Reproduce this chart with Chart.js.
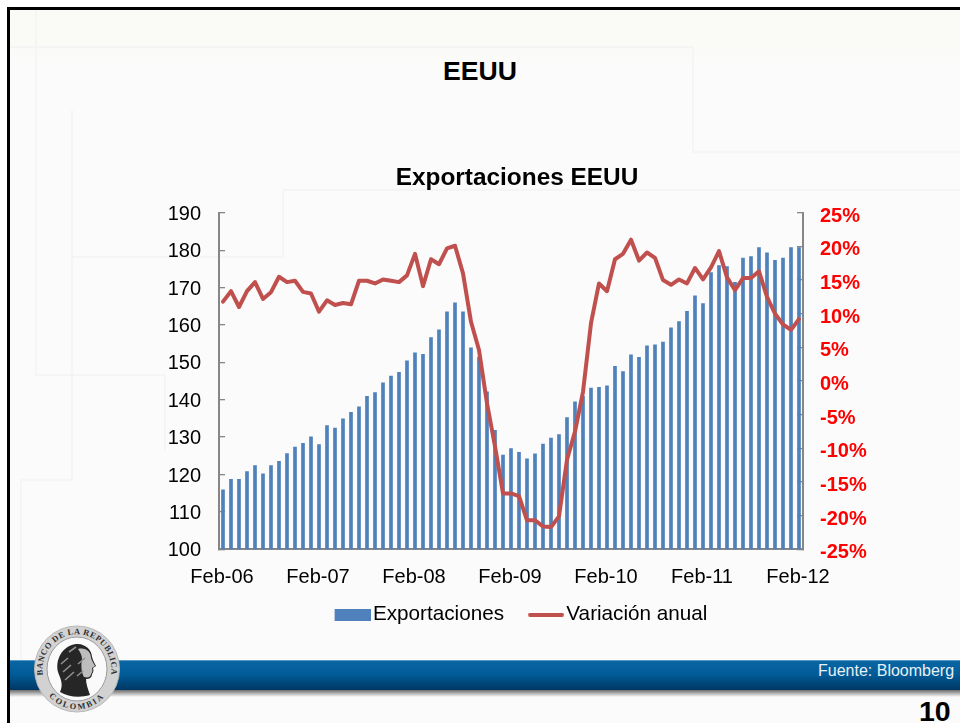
<!DOCTYPE html>
<html><head><meta charset="utf-8">
<script src="https://cdn.jsdelivr.net/npm/chart.js@4"></script>
<style>
html,body{margin:0;padding:0;background:#fff;width:960px;height:723px;overflow:hidden}
#slide{position:absolute;left:0;top:0;width:960px;height:723px;font-family:"Liberation Sans",Arial,sans-serif}
#bg{position:absolute;left:0;top:0}
#wrap{position:absolute;left:74px;top:150px;width:886px;height:485px}
.t{position:absolute;white-space:nowrap}
</style></head><body>
<div id="slide">
<svg id="bg" width="960" height="723" xmlns="http://www.w3.org/2000/svg">
<defs>
<linearGradient id="page" x1="0" y1="0" x2="0" y2="1"><stop offset="0" stop-color="#fafaf6"/><stop offset=".05" stop-color="#fafaf7"/><stop offset=".09" stop-color="#fbfbfb"/><stop offset="1" stop-color="#fbfbfb"/></linearGradient>
<linearGradient id="band" x1="0" y1="0" x2="0" y2="1"><stop offset="0" stop-color="#7db2d4"/><stop offset=".05" stop-color="#0a66a3"/><stop offset=".5" stop-color="#005a96"/><stop offset="1" stop-color="#003763"/></linearGradient>
<linearGradient id="shadow" x1="0" y1="0" x2="0" y2="1"><stop offset="0" stop-color="#6e6e6e"/><stop offset="1" stop-color="#fbfbfb"/></linearGradient>
<path id="arcTop" d="M 47 688 A 34.5 36 0 1 1 107 688"/>
<path id="arcBot" d="M 44 689 A 38 40 0 0 0 110 689"/>
</defs>
<rect x="7" y="7" width="953" height="716" fill="url(#page)"/>
<g fill="none" stroke="#f4f4f4" stroke-width="1.5">
<path d="M10 47H693V152H960"/>
<path d="M36 10V375H165V450"/>
<path d="M72 110V480H21V660"/>
<path d="M72 257H283V190H960"/>
</g>
<rect x="10" y="660" width="950" height="30" fill="url(#band)"/>
<rect x="10" y="690" width="950" height="7" fill="url(#shadow)"/>
<path d="M7 7H960V10H10V723H7Z" fill="#000"/>
<ellipse cx="77" cy="669" rx="42.5" ry="43" fill="#d2d2d2" stroke="#b8b8b8" stroke-width="1"/>
<ellipse cx="77" cy="669" rx="30" ry="32" fill="#fafafa" stroke="#9a9a9a" stroke-width="1"/>
<text font-family="Liberation Serif" font-weight="bold" font-size="8.4" fill="#2e2e2e" letter-spacing=".55"><textPath href="#arcTop" startOffset="50%" text-anchor="middle">BANCO DE LA REPUBLICA</textPath></text>
<text font-family="Liberation Serif" font-weight="bold" font-size="8.4" fill="#2e2e2e" letter-spacing="2"><textPath href="#arcBot" startOffset="50%" text-anchor="middle">COLOMBIA</textPath></text>
<path d="M60 692C64 684 60 678 58 672C55 660 62 646 76 644C85 643 92 650 92 657C93 661 95 664 96 666L93 668C94 671 93 673 92 674C92 678 89 679 86 679C86 684 88 689 90 695C80 698 68 697 60 692Z" fill="#262626"/>
<path d="M78 649C86 647 91 652 91 658C92 661 94 664 95 666L92 668C93 671 92 673 91 674C91 677 88 678 84 677C81 672 81 664 82 659C82 655 80 652 78 649Z" fill="#bdbdbd"/>
<path d="M61 664l7-6m-5 14l8-7m-6 15l9-8m-5-20l7-5m2 17l7-6m-8 18l6-5" stroke="#8f8f8f" stroke-width="1.6" fill="none"/>
</svg>
<div class="t" style="left:443px;top:55px;font-size:26.6px;line-height:32px;font-weight:bold;color:#000">EEUU</div>
<div class="t" style="left:818px;top:662px;font-size:16px;line-height:18px;color:#e8f0f6">Fuente: Bloomberg</div>
<div class="t" style="left:919px;top:695px;font-size:28.5px;line-height:32px;font-weight:bold;color:#000">10</div>
<div id="wrap"><canvas id="c" width="886" height="485"></canvas></div>
</div>
<script>
const yearLabels = ["06","07","08","09","10","11","12"];
const monthNames = ["Feb","Mar","Abr","May","Jun","Jul","Ago","Sep","Oct","Nov","Dic","Ene"];
const categories = [];
for (let i = 0; i < 73; i++) {
  const y = yearLabels[Math.floor(i / 12)];
  categories.push(monthNames[i % 12] + "-" + y);
}
const exportaciones = [116,118.8,118.8,120.9,122.5,120.3,122.5,123.6,125.7,127.4,128.4,130.2,
  128.1,133.2,132.5,135,136.7,138.2,141,142,144.6,146.4,147.4,150.5,
  152.6,152.2,156.7,158.8,163.6,166,163.6,154,151.5,142.2,131.9,125.3,
  127,126,124.3,125.6,128.2,129.8,130.8,135.3,139.5,141,143.2,143.4,
  143.8,149,147.6,152.1,151.4,154.5,154.8,155.5,159.3,161,163.7,167.9,
  165.8,174.1,176,175.7,171.5,178,178.4,180.8,179.4,177.4,178,180.8,180.8];
const variacion = [11.8,13.35,11,13.35,14.7,12.2,13.2,15.5,14.7,14.9,13.25,13,
  10.3,12,11.3,11.6,11.4,14.9,14.9,14.5,15.1,14.9,14.7,15.7,
  18.9,14.1,18.1,17.35,19.7,20.1,16,8.8,4.6,-3.3,-9.7,-16.7,
  -16.7,-17.1,-20.7,-20.7,-21.6,-21.7,-20.1,-11.7,-7.5,-1.6,8.6,14.5,
  13.35,18.1,18.9,21,17.9,19.1,18.3,15,14.3,15.1,14.5,16.8,
  15.1,16.9,19.3,15.4,13.5,15.3,15.3,16.3,12.5,10,8.4,7.6,9.2];

const BLUE = "#4F81BD", RED = "#C0504D", AXIS = "#868686";
const FONT = "'Liberation Sans', Arial, sans-serif";

// Legend key: a 36px key right-aligned in a wider transparent image, so it sits next to its text.
function swatch(h, color, round) {
  const c = document.createElement("canvas");
  c.width = 52; c.height = h;
  const x = c.getContext("2d");
  x.fillStyle = color;
  if (round) { x.beginPath(); x.roundRect(16, 0, 36, h, h / 2); x.fill(); }
  else x.fillRect(16, 0, 36, h);
  return c;
}

new Chart(document.getElementById("c"), {
  data: {
    labels: categories,
    datasets: [
      { type: "bar", label: "Exportaciones", data: exportaciones, yAxisID: "y", order: 2,
        backgroundColor: BLUE, barPercentage: 0.46, categoryPercentage: 1,
        pointStyle: swatch(12, BLUE, false) },
      { type: "line", label: "Variación anual", data: variacion, yAxisID: "y1", order: 1,
        borderColor: RED, backgroundColor: RED, borderWidth: 4, tension: 0, pointRadius: 0,
        borderJoinStyle: "round", borderCapStyle: "round", clip: false,
        pointStyle: swatch(4, RED, true) }
    ]
  },
  options: {
    responsive: false, animation: false, devicePixelRatio: 1,
    layout: { padding: 0 },
    plugins: {
      tooltip: { enabled: false },
      title: { display: true, text: "Exportaciones EEUU", color: "#000",
        font: { family: FONT, size: 24.4, weight: "bold", lineHeight: 1.2 },
        padding: { top: 13.5, bottom: 20 } },
      legend: { position: "bottom",
        labels: { usePointStyle: true, pointStyleWidth: 36, boxHeight: 12, padding: 16,
          sort: (a, b) => a.datasetIndex - b.datasetIndex,
          color: "#000", font: { family: FONT, size: 20.7 } } }
    },
    scales: {
      x: { offset: true,
        grid: { display: true, drawOnChartArea: false, drawTicks: false },
        border: { color: AXIS, width: 2 },
        afterFit(s) { s.height = 39; },
        ticks: { autoSkip: false, maxRotation: 0, minRotation: 0, padding: 16, labelOffset: -1, color: "#000",
          font: { family: FONT, size: 20 },
          callback(v, i) { return i % 12 === 0 ? this.getLabelForValue(v) : ""; } } },
      y: { position: "left", min: 100, max: 190,
        grid: { drawOnChartArea: false, tickLength: -6, color: AXIS, lineWidth: 1.3 },
        border: { color: AXIS, width: 2 },
        afterFit(s) { s.width = 145; },
        ticks: { stepSize: 10, padding: 24, labelOffset: 1.5, color: "#000", font: { family: FONT, size: 20 } } },
      y1: { position: "right", min: -25, max: 25,
        grid: { drawOnChartArea: false, tickLength: -6, color: AXIS, lineWidth: 1.3 },
        border: { color: AXIS, width: 2 },
        afterFit(s) { s.width = 157; },
        ticks: { stepSize: 5, padding: 23, labelOffset: 3.5, color: "#FF0000", font: { family: FONT, size: 20, weight: "bold" },
          callback(v) { return v + "%"; } } }
    }
  }
});
</script>
</body></html>
